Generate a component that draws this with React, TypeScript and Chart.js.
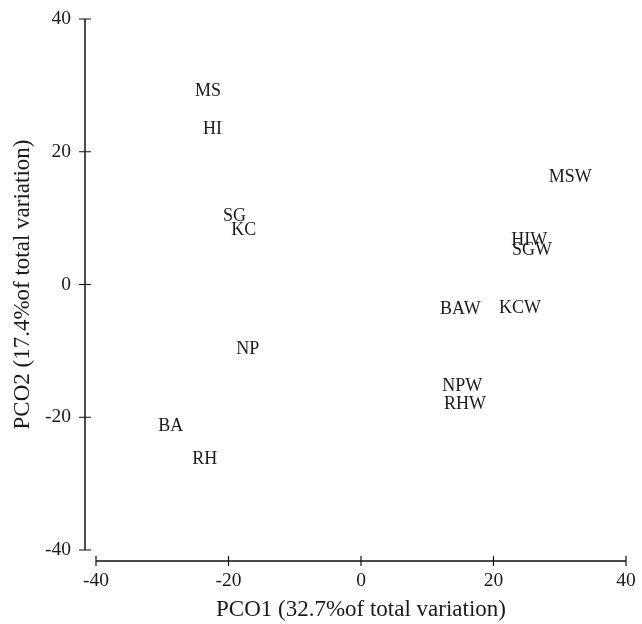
import React, { useEffect, useRef } from 'react';
import { Chart, registerables } from 'chart.js';

Chart.register(...registerables);

const siteLabels = ['MS', 'HI', 'SG', 'KC', 'NP', 'BA', 'RH', 'MSW', 'HIW', 'SGW', 'BAW', 'KCW', 'NPW', 'RHW'];
const pco1Values = [-23.1, -22.4, -19.1, -17.7, -17.1, -28.7, -23.6, 31.6, 25.4, 25.8, 15.0, 24.0, 15.3, 15.7];
const pco2Values = [29.1, 23.4, 10.3, 8.2, -9.8, -21.4, -26.3, 16.1, 6.6, 5.1, -3.7, -3.6, -15.3, -18.0];
const xTickValues = [-40, -20, 0, 20, 40];
const yTickValues = [-40, -20, 0, 20, 40];
const xTitle = 'PCO1 (32.7%of total variation)';
const yTitle = 'PCO2 (17.4%of total variation)';

const FONT = "'Liberation Serif', 'Times New Roman', Times, serif";
const TEXT_COLOR = '#1a1a1a';
const AXIS_COLOR = '#111';

const labelAxesPlugin = {
  id: 'labelAxes',
  afterDatasetsDraw(chart: any) {
    const { ctx, chartArea, scales } = chart;
    const xs = scales.x;
    const ys = scales.y;
    ctx.save();
    const meta = chart.getDatasetMeta(0);
    ctx.font = `18px ${FONT}`;
    ctx.fillStyle = TEXT_COLOR;
    ctx.textAlign = 'center';
    ctx.textBaseline = 'middle';
    meta.data.forEach((el: any, i: number) => {
      ctx.fillText(siteLabels[i], el.x, el.y);
    });
    ctx.strokeStyle = AXIS_COLOR;
    const axX = chartArea.left - 11;
    const axY = chartArea.bottom + 11;
    // axis lines
    ctx.lineWidth = 1.5;
    ctx.beginPath();
    ctx.moveTo(axX, ys.getPixelForValue(yTickValues[yTickValues.length - 1]));
    ctx.lineTo(axX, ys.getPixelForValue(yTickValues[0]));
    ctx.moveTo(xs.getPixelForValue(xTickValues[0]), axY);
    ctx.lineTo(xs.getPixelForValue(xTickValues[xTickValues.length - 1]), axY);
    ctx.stroke();
    // tick marks
    ctx.lineWidth = 1.2;
    ctx.beginPath();
    yTickValues.forEach((v) => {
      const p = ys.getPixelForValue(v);
      ctx.moveTo(axX - 6, p);
      ctx.lineTo(axX + 6, p);
    });
    xTickValues.forEach((v) => {
      const p = xs.getPixelForValue(v);
      ctx.moveTo(p, axY - 5);
      ctx.lineTo(p, axY + 5);
    });
    ctx.stroke();
    ctx.restore();
  },
};

export default function App() {
  const canvasRef = useRef<HTMLCanvasElement | null>(null);

  useEffect(() => {
    document.body.style.margin = '0';
    const canvas = canvasRef.current;
    if (!canvas) return;
    const chart = new Chart(canvas, {
      type: 'scatter',
      data: {
        datasets: [
          {
            data: pco1Values.map((x, i) => ({ x, y: pco2Values[i] })),
            pointRadius: 0,
            pointHoverRadius: 0,
          },
        ],
      },
      options: {
        animation: false,
        responsive: false,
        devicePixelRatio: 1,
        events: [],
        layout: { padding: { top: 19, right: 16, left: 0, bottom: 0 } },
        plugins: { legend: { display: false }, tooltip: { enabled: false } },
        scales: {
          x: {
            type: 'linear',
            min: -40,
            max: 40,
            afterBuildTicks: (s: any) => {
              s.ticks = xTickValues.map((v) => ({ value: v }));
            },
            afterFit: (s: any) => {
              s.height = 74;
              s.paddingLeft = 0;
              s.paddingRight = 0;
            },
            grid: { display: false, drawTicks: false },
            border: { display: false },
            ticks: {
              color: TEXT_COLOR,
              font: { family: FONT, size: 19.5 },
              padding: 19,
              maxRotation: 0,
            },
            title: {
              display: true,
              text: xTitle,
              color: TEXT_COLOR,
              font: { family: FONT, size: 23 },
              padding: { top: 0, bottom: 0 },
            },
          },
          y: {
            type: 'linear',
            min: -40,
            max: 40,
            afterBuildTicks: (s: any) => {
              s.ticks = yTickValues.map((v) => ({ value: v }));
            },
            afterFit: (s: any) => {
              s.width = 96;
              s.paddingTop = 0;
              s.paddingBottom = 0;
            },
            grid: { display: false, drawTicks: false },
            border: { display: false },
            ticks: {
              color: TEXT_COLOR,
              font: { family: FONT, size: 19.5 },
              padding: 25,
            },
            title: {
              display: true,
              text: yTitle,
              color: TEXT_COLOR,
              font: { family: FONT, size: 23 },
              padding: { top: 9, bottom: 0 },
            },
          },
        },
      },
      plugins: [labelAxesPlugin],
    });
    return () => chart.destroy();
  }, []);

  return (
    <div style={{ width: 642, height: 624, background: '#fff' }}>
      <canvas ref={canvasRef} width={642} height={624} style={{ width: 642, height: 624, display: 'block' }} />
    </div>
  );
}
